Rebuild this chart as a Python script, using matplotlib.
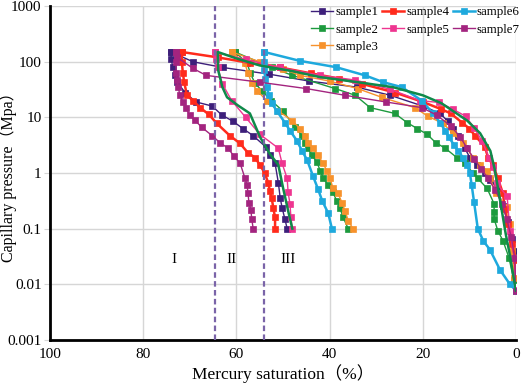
import matplotlib
matplotlib.use('Agg')
import matplotlib.pyplot as plt

# injection curves read from high pressure down to the start, withdrawal from high pressure down
s1_inj_sat = [74, 69.3, 62.9, 53, 44.4, 34.1, 27, 20, 16.3, 14.6, 13.5, 12.4, 11, 9.9, 8.4,
              6.7, 5.6, 4.1, 2.8, 1.7, 0.9, 0.4, 0]
s1_inj_p = [150, 100, 79, 60, 45, 35, 25, 16, 11.8, 8.5, 6.3, 4.7, 2.8, 1.9, 1.4,
            1.0, 0.74, 0.55, 0.26, 0.13, 0.066, 0.04, 0.0077]
s1_wd_sat = [74, 74, 73.6, 73.2, 72.7, 71, 68.7, 65.2, 63.1, 60.7, 58.6, 56.4, 53.6,
             52.8, 51.7, 51, 50.6, 50.2, 49.6, 49.1]
s1_wd_p = [150, 110, 79, 57, 43, 28, 19, 16, 11, 8.5, 6.3, 4.7, 2.9,
           2.1, 1.5, 0.67, 0.36, 0.24, 0.15, 0.1]

s2_inj_sat = [60.3, 52.4, 48, 38.8, 34.5, 31.3, 26, 23.4, 21.2, 19.1, 17.2, 15.2, 12.7, 11,
              9.2, 8.2, 6.2, 4.7, 4.7, 4.7, 3.9, 2.8, 1.5, 0.5, 0]
s2_inj_p = [150, 79, 57, 33, 25, 15, 11.8, 8.1, 6.3, 5.0, 3.5, 2.8, 1.9, 1.5,
            1.0, 0.8, 0.53, 0.28, 0.2, 0.15, 0.092, 0.061, 0.03, 0.012, 0.0077]
s2_wd_sat = [60.3, 57.7, 57, 56, 54.5, 52.5, 50, 47.4, 45.9, 45.3, 44.6, 43.8, 42.7, 42,
             41.4, 40.3, 39.3, 38.4, 37.8, 37.1, 36]
s2_wd_p = [150, 95, 62, 41, 30, 20, 13, 6.6, 4.7, 3.5, 2.8, 2.1, 1.55, 1.1,
           0.83, 0.6, 0.45, 0.31, 0.24, 0.16, 0.1]

s3_inj_sat = [61, 55, 50, 46.4, 40, 34, 28.8, 21.7, 18.9, 15.7, 13.5, 11.4, 9.2, 7.7, 6.2,
              5.6, 4.3, 2, 1.3, 0.8, 0.4, 0]
s3_inj_p = [150, 100, 75, 57, 45, 33, 23, 15, 10.5, 7.8, 5.2, 3.5, 1.9, 1.4, 1.1,
            0.83, 0.43, 0.25, 0.12, 0.04, 0.013, 0.0077]
s3_wd_sat = [61, 58.2, 57.5, 56.7, 55.5, 53.5, 51, 48, 46.4, 45.3, 44.6, 43.6, 42.5, 41.4,
             40.6, 39.9, 39.3, 38.2, 37.3, 36.7, 36, 35]
s3_wd_p = [150, 95, 62, 41, 30, 20, 13, 8.8, 6.3, 4.7, 3.5, 2.8, 2.1, 1.5,
           1.1, 0.8, 0.55, 0.43, 0.29, 0.21, 0.14, 0.1]

s4_inj_sat = [71.7, 64, 57, 50.6, 44, 38, 33, 26, 20, 16, 14, 11.6, 10, 8.8, 6.7, 6,
              4.9, 3.9, 2.8, 2.4, 1.7, 0.9, 0, 0]
s4_inj_p = [150, 120, 95, 79, 62, 50, 40, 28, 19, 14, 11.8, 8.1, 6.3, 4.7, 3.0, 1.9,
            1.37, 0.8, 0.43, 0.23, 0.12, 0.054, 0.027, 0.0077]
s4_wd_sat = [71.7, 71.7, 71.5, 71.2, 70.6, 69.3, 67.8, 65.9, 64.2, 61.4, 59.2, 57.5, 56,
             54.9, 53.9, 53.2, 52.8, 52.4, 52.1, 51.7, 51.7]
s4_wd_p = [150, 100, 64, 43, 25, 20, 15, 11.3, 7.8, 4.7, 3.4, 2.3, 1.9,
           1.37, 1.0, 0.67, 0.48, 0.35, 0.24, 0.16, 0.1]

s5_inj_sat = [64.5, 58, 50.6, 42, 34.5, 27, 20.6, 16.5, 13.5, 10.8, 9, 7.3, 5.8, 4.9, 4.1,
              1.9, 1.3, 0.4, 0]
s5_inj_p = [150, 110, 79, 57, 47, 32, 20, 18.6, 14, 10.5, 6.5, 3.8, 1.9, 1.26, 0.65,
            0.38, 0.092, 0.03, 0.008]
s5_wd_sat = [64.5, 64.3, 64, 63, 61, 58, 55, 51, 50.2, 49.1, 48.9, 48.5, 48.3, 48]
s5_wd_p = [150, 110, 80, 40, 20, 10, 5, 2.8, 1.5, 0.8, 0.45, 0.28, 0.16, 0.1]

s6_inj_sat = [54, 46.4, 38.6, 32.4, 28.5, 24.5, 20.2, 17.8, 16.3, 15.2, 14.4, 13.3, 12.4,
              11.4, 10.5, 9.9, 9.5, 9, 8.2, 7, 5.6, 3.4, 1.3, 0]
s6_inj_p = [150, 104, 80, 57, 43, 35, 20, 11.8, 8.1, 5.8, 4.4, 3.2, 2.5,
            1.9, 1.4, 1.0, 0.6, 0.3, 0.1, 0.06, 0.042, 0.018, 0.01, 0.0077]
s6_wd_sat = [54, 54, 54, 53.8, 53.5, 53, 52.4, 51.3, 49.6, 48.5, 47, 45.9, 44.8, 43.6,
             42.5, 41.6, 40.3, 39.5]
s6_wd_p = [150, 100, 70, 50, 35, 25, 18, 13, 8.1, 5.8, 3.8, 2.5, 1.7, 0.9,
           0.52, 0.32, 0.19, 0.1]

s7_inj_sat = [73, 72.7, 69.3, 66.5, 55, 45, 36.7, 28, 20.2, 17, 14, 12, 10.5, 9, 7.5, 6,
              4.5, 3, 2, 1, 0.3, 0]
s7_inj_p = [150, 120, 76, 57, 43, 33, 25, 19, 15, 11, 7, 4.5, 2.8, 1.8, 1.2, 0.8,
            0.5, 0.28, 0.15, 0.07, 0.03, 0.0077]
s7_wd_sat = [73, 73, 72.9, 72.7, 72.5, 72.1, 71.5, 70.8, 70, 68.9, 67.4, 65.2, 63.5, 61.8,
             60.5, 59.2, 58.2, 57.7, 57.5, 57.3, 56.9, 56.7, 56.4]
s7_wd_p = [150, 100, 64, 47, 35, 25, 19, 14.5, 11, 8.9, 6.6, 4.7, 3.5, 2.8,
           2.0, 1.5, 0.83, 0.6, 0.43, 0.29, 0.22, 0.15, 0.1]

# extra green trend line without markers
gl_inj_sat = [64, 60, 55, 48, 42, 34, 26.4, 20, 16, 13.5, 10.5, 7.7, 5.5, 4.6, 3.8, 3,
              2.2, 1.2, 0.5, 0]
gl_inj_p = [150, 115, 86, 68, 53, 43, 35, 25, 18, 13, 8.8, 5.2, 2.5, 1.2, 0.5, 0.2,
            0.08, 0.03, 0.013, 0.0077]
gl_wd_sat = [64, 63.9, 63, 62, 59.7, 57.1, 54.9, 52.8, 51, 50, 48.9, 48]
gl_wd_p = [150, 70, 35, 23, 16.5, 11.8, 4.4, 2.2, 1.4, 0.55, 0.21, 0.1]

labels = ['sample1', 'sample2', 'sample3', 'sample4', 'sample5', 'sample6', 'sample7']
colors = ['#3d1f7a', '#1d9a3e', '#f7922c', '#ff2b1c', '#ee3590', '#1ea9dd', '#a3247f']
widths = [1.0, 1.0, 1.0, 1.8, 1.0, 1.8, 1.0]

series = [
    (s1_inj_sat, s1_inj_p, s1_wd_sat, s1_wd_p),
    (s2_inj_sat, s2_inj_p, s2_wd_sat, s2_wd_p),
    (s3_inj_sat, s3_inj_p, s3_wd_sat, s3_wd_p),
    (s4_inj_sat, s4_inj_p, s4_wd_sat, s4_wd_p),
    (s5_inj_sat, s5_inj_p, s5_wd_sat, s5_wd_p),
    (s6_inj_sat, s6_inj_p, s6_wd_sat, s6_wd_p),
    (s7_inj_sat, s7_inj_p, s7_wd_sat, s7_wd_p),
]

boundaries = [64.5, 54]
regions = ['I', 'II', 'III']
region_x = [73.4, 61, 49]

serif = 'Liberation Serif'

fig = plt.figure(figsize=(5.26, 3.85), dpi=100)
ax = fig.add_axes([0.095, 0.117, 0.886, 0.867])

ax.plot(gl_inj_sat[::-1] + gl_wd_sat, gl_inj_p[::-1] + gl_wd_p,
        color='#0f8a4a', lw=1.8, zorder=3)

for (isat, ip, wsat, wp), lab, c, w in zip(series, labels, colors, widths):
    ax.plot(isat[::-1] + wsat, ip[::-1] + wp, color=c, lw=w, marker='s',
            markersize=4.2, markeredgewidth=0.5, label=lab, zorder=2)

for b in boundaries:
    ax.axvline(b, color='#7a64a8', ls=(0, (2.5, 1.5)), lw=1.6, zorder=4)

for r, x in zip(regions, region_x):
    ax.text(x, 0.028, r, ha='center', va='center', fontsize=11, family=serif)

ax.set_yscale('log')
ax.set_ylim(0.001, 1000)
ax.set_xlim(100, 0)
ax.set_xticks([100, 80, 60, 40, 20, 0])
ax.set_yticks([0.001, 0.01, 0.1, 1, 10, 100, 1000])
ax.set_yticklabels(['0.001', '0.01', '0.1', '1', '10', '100', '1000'])
ax.minorticks_off()
ax.tick_params(axis='x', length=0, labelsize=11, pad=6)
ax.tick_params(axis='y', length=4, color='#d6d6d6', labelsize=11, pad=2)
for t in ax.get_xticklabels() + ax.get_yticklabels():
    t.set_family(serif)

ax.grid(True, color='#d6d6d6', lw=1)
ax.set_axisbelow(True)
for s in ['top', 'right']:
    ax.spines[s].set_visible(False)
for s in ['left', 'bottom']:
    ax.spines[s].set_linewidth(2)
    ax.spines[s].set_color('black')

ax.set_xlabel('Mercury saturation（%）', fontsize=12.5, family=[serif, 'Noto Sans CJK SC'], labelpad=2)
ax.set_ylabel('Capillary pressure（Mpa）', fontsize=11.5, family=[serif, 'Noto Sans CJK SC'])
ax.yaxis.set_label_coords(-0.07, 0.5)

ax.legend(ncol=3, loc='upper left', bbox_to_anchor=(0.55, 1.015), frameon=False,
          prop={'family': serif, 'size': 9.3}, handlelength=1.7, handletextpad=0.15,
          columnspacing=0.3, labelspacing=0.4, borderaxespad=0.0)

fig.savefig('out.png', dpi=100)
